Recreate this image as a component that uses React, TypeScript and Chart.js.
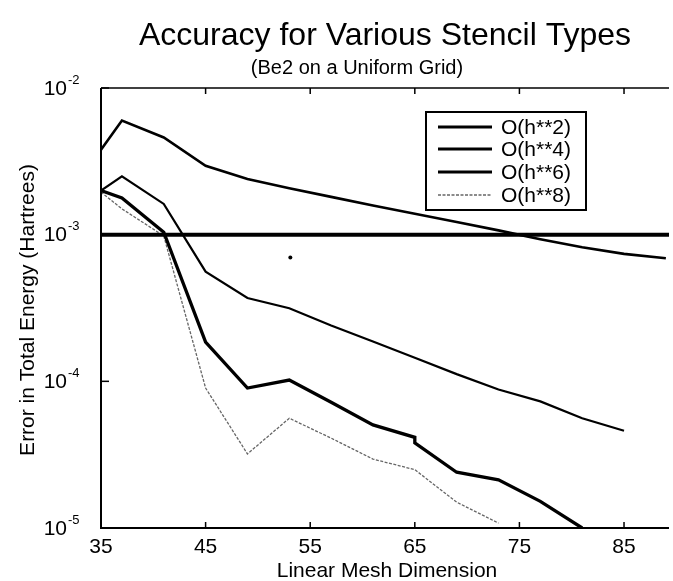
import React, { useEffect, useRef } from "react";
import { Chart, registerables } from "chart.js";
Chart.register(...registerables);

const FONT = '"Liberation Sans", Arial, Helvetica, sans-serif';

// Linear mesh dimension (x) for each series
const meshX2 = [35, 37, 41, 45, 49, 53, 57, 61, 65, 69, 73, 77, 81, 85, 89];
const meshX4 = [35, 37, 41, 45, 49, 53, 57, 61, 65, 69, 73, 77, 81, 85];
const meshX6 = [35, 37, 41, 45, 49, 53, 57, 61, 65, 65, 69, 73, 77, 81];
const meshX8 = [35, 37, 41, 45, 49, 53, 57, 61, 65, 69, 73];

// Error in total energy (Hartrees)
const errH2 = [3.8e-3, 6.0e-3, 4.6e-3, 2.95e-3, 2.4e-3, 2.07e-3, 1.81e-3, 1.58e-3, 1.39e-3, 1.22e-3, 1.07e-3, 9.3e-4, 8.2e-4, 7.4e-4, 6.9e-4];
const errH4 = [2.0e-3, 2.5e-3, 1.62e-3, 5.6e-4, 3.7e-4, 3.15e-4, 2.4e-4, 1.87e-4, 1.45e-4, 1.12e-4, 8.8e-5, 7.3e-5, 5.6e-5, 4.6e-5];
const errH6 = [2.0e-3, 1.78e-3, 1.04e-3, 1.85e-4, 9.0e-5, 1.02e-4, 7.2e-5, 5.05e-5, 4.15e-5, 3.8e-5, 2.4e-5, 2.13e-5, 1.52e-5, 1.0e-5];
const errH8 = [1.95e-3, 1.5e-3, 9.8e-4, 9.0e-5, 3.2e-5, 5.6e-5, 4.1e-5, 2.95e-5, 2.5e-5, 1.5e-5, 1.08e-5];

// Reference accuracy line and stray mark
const refX = [35, 89.3];
const refY = [1e-3, 1e-3];
const dotX = [53.1];
const dotY = [7.0e-4];

// Axis ticks and labels
const xTicks = [35, 45, 55, 65, 75, 85];
const yExponents = [-2, -3, -4, -5];
const legendLabels = ["O(h**2)", "O(h**4)", "O(h**6)", "O(h**8)"];
const titleText = "Accuracy for Various Stencil Types";
const subtitleText = "(Be2 on a Uniform Grid)";
const xTitle = "Linear Mesh Dimension";
const yTitle = "Error in Total Energy (Hartrees)";

const pts = (xs: number[], ys: number[]) => ys.map((y, i) => ({ x: xs[i], y }));

export default function App() {
  const ref = useRef<HTMLCanvasElement>(null);

  useEffect(() => {
    if (!ref.current) return;

    const styles = [
      { w: 2.6, c: "#000", dash: [] as number[] },
      { w: 2.2, c: "#000", dash: [] as number[] },
      { w: 3.3, c: "#000", dash: [] as number[] },
      { w: 1.3, c: "#666", dash: [3, 1.5] },
    ];

    const decor = {
      id: "decor",
      afterDraw(chart: any) {
        const ctx = chart.ctx as CanvasRenderingContext2D;
        const xs = chart.scales.x;
        const ys = chart.scales.y;
        const a = chart.chartArea;
        ctx.save();
        ctx.strokeStyle = "#000";
        ctx.fillStyle = "#000";
        // frame
        ctx.lineWidth = 2;
        ctx.beginPath();
        ctx.moveTo(a.left, a.top);
        ctx.lineTo(a.left, a.bottom);
        ctx.lineTo(a.right, a.bottom);
        ctx.stroke();
        ctx.lineWidth = 1.5;
        ctx.beginPath();
        ctx.moveTo(a.left, a.top);
        ctx.lineTo(a.right, a.top);
        ctx.stroke();
        // x ticks (inward) + labels
        ctx.lineWidth = 1.5;
        ctx.font = `21px ${FONT}`;
        ctx.textAlign = "center";
        ctx.textBaseline = "alphabetic";
        for (const t of xTicks) {
          const px = xs.getPixelForValue(t);
          ctx.beginPath();
          ctx.moveTo(px, a.bottom);
          ctx.lineTo(px, a.bottom - 6);
          ctx.moveTo(px, a.top);
          ctx.lineTo(px, a.top + 6);
          ctx.stroke();
          ctx.fillText(String(t), px, 553);
        }
        // y ticks + labels
        for (const e of yExponents) {
          const py = ys.getPixelForValue(Math.pow(10, e));
          ctx.beginPath();
          ctx.moveTo(a.left, py);
          ctx.lineTo(a.left + 8, py);
          ctx.stroke();
          ctx.font = `21px ${FONT}`;
          ctx.textAlign = "right";
          ctx.textBaseline = "middle";
          ctx.fillText("10", 67, py + 1);
          ctx.font = `13px ${FONT}`;
          ctx.textAlign = "left";
          ctx.fillText(String(e), 68, py - 8);
        }
        // axis titles
        ctx.font = `21px ${FONT}`;
        ctx.textAlign = "center";
        ctx.textBaseline = "alphabetic";
        ctx.fillText(xTitle, 387, 577);
        ctx.save();
        ctx.translate(28, 310);
        ctx.rotate(-Math.PI / 2);
        ctx.textBaseline = "middle";
        ctx.fillText(yTitle, 0, 0);
        ctx.restore();
        // titles
        ctx.font = `32px ${FONT}`;
        ctx.textAlign = "center";
        ctx.textBaseline = "alphabetic";
        ctx.fillText(titleText, 385, 45);
        ctx.font = `20px ${FONT}`;
        ctx.fillText(subtitleText, 357, 74);
        // legend
        ctx.fillStyle = "#fff";
        ctx.fillRect(426, 112, 160, 98);
        ctx.strokeStyle = "#000";
        ctx.lineWidth = 2;
        ctx.strokeRect(426, 112, 160, 98);
        const rows = [127, 149, 172, 195];
        ctx.font = `21px ${FONT}`;
        ctx.textAlign = "left";
        ctx.textBaseline = "middle";
        legendLabels.forEach((lab, i) => {
          const s = styles[i];
          ctx.strokeStyle = s.c;
          ctx.lineWidth = i < 3 ? 2.8 : 1.3;
          ctx.setLineDash(s.dash);
          ctx.beginPath();
          ctx.moveTo(438, rows[i]);
          ctx.lineTo(492, rows[i]);
          ctx.stroke();
          ctx.setLineDash([]);
          ctx.fillStyle = "#000";
          ctx.fillText(lab, 501, rows[i] + 1);
        });
        ctx.restore();
      },
    };

    const series = [
      { label: legendLabels[0], data: pts(meshX2, errH2) },
      { label: legendLabels[1], data: pts(meshX4, errH4) },
      { label: legendLabels[2], data: pts(meshX6, errH6) },
      { label: legendLabels[3], data: pts(meshX8, errH8) },
    ];

    const chart = new Chart(ref.current, {
      type: "line",
      data: {
        datasets: [
          {
            label: "ref",
            data: pts(refX, refY),
            borderColor: "#000",
            borderWidth: 4,
            pointRadius: 0,
          },
          ...series.map((s, i) => ({
            ...s,
            borderColor: styles[i].c,
            borderWidth: styles[i].w,
            borderDash: styles[i].dash,
            pointRadius: 0,
            borderJoinStyle: "miter" as const,
          })),
          {
            label: "dot",
            data: pts(dotX, dotY),
            showLine: false,
            pointRadius: 2,
            pointBackgroundColor: "#000",
            pointBorderWidth: 0,
          },
        ],
      },
      options: {
        animation: false,
        responsive: false,
        devicePixelRatio: 1,
        layout: { padding: { left: 101, top: 88, right: 0, bottom: 53 } },
        plugins: { legend: { display: false }, tooltip: { enabled: false }, title: { display: false } },
        elements: { line: { tension: 0 } },
        scales: {
          x: { type: "linear", min: 35, max: 89.3, display: false },
          y: { type: "logarithmic", min: 1e-5, max: 1e-2, display: false },
        },
      },
      plugins: [decor],
    });
    return () => chart.destroy();
  }, []);

  return (
    <div style={{ position: "absolute", left: 0, top: 0, width: 673, height: 581, background: "#fff" }}>
      <canvas ref={ref} width={673} height={581} style={{ display: "block", width: 673, height: 581 }} />
    </div>
  );
}
